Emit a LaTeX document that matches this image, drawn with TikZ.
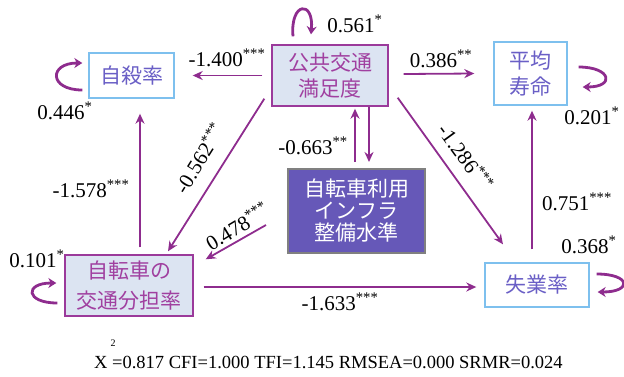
\documentclass[tikz,border=0pt]{standalone}
\usepackage{fontspec}
\setmainfont{Liberation Serif}
\newfontfamily\cjk{Noto Sans CJK JP}
\usetikzlibrary{arrows.meta}

\definecolor{pathpurple}{HTML}{8E2C8E}
\definecolor{boxpurple}{HTML}{9B3A9B}
\definecolor{textpurple}{HTML}{A040A0}
\definecolor{boxfill}{HTML}{DCE4F2}
\definecolor{skyline}{HTML}{7EC0EE}
\definecolor{slatetext}{HTML}{6A5FC6}
\definecolor{infrafill}{HTML}{6658B8}

\newcommand{\stars}[1]{\textsuperscript{#1}}

\begin{document}
\begin{tikzpicture}[x=1pt, y=-1pt,
    outcome/.style={draw=skyline, line width=1.4pt, fill=white, text=slatetext, align=center, inner sep=0pt, font=\cjk\fontsize{21}{26}\selectfont},
    latent/.style={draw=boxpurple, line width=1.4pt, fill=boxfill, text=textpurple, align=center, inner sep=0pt, font=\cjk\fontsize{21}{26}\selectfont},
    infrabox/.style={draw=gray, line width=2pt, fill=infrafill, text=white, align=center, inner sep=0pt, font=\cjk\fontsize{21}{22}\selectfont},
    effect/.style={pathpurple, line width=1.8pt, -{Stealth[length=10pt, width=9pt]}},
    resid/.style={pathpurple, line width=2.8pt, -{Stealth[length=8pt, width=10pt]}},
    coef/.style={inner sep=0pt, font=\fontsize{21}{21}\selectfont}]

    \useasboundingbox (0,0) rectangle (624,376);

    % boxes
    \node[outcome, minimum width=85pt, minimum height=45pt] (suicide) at (131.5,75.5) {自殺率};
    \node[latent, minimum width=116pt, minimum height=61pt] (transit) at (330,75.5) {公共交通\\満足度};
    \node[outcome, minimum width=73pt, minimum height=63pt] (life) at (530.5,73.5) {平均\\寿命};
    \node[infrabox, minimum width=137pt, minimum height=84pt] (infra) at (356.5,211) {自転車利用\\インフラ\\整備水準};
    \node[latent, minimum width=128pt, minimum height=61pt, font=\cjk\fontsize{21}{30}\selectfont] (share) at (129,285.5) {自転車の\\交通分担率};
    \node[outcome, minimum width=104pt, minimum height=44pt] (unemp) at (537,285) {失業率};

    % paths
    \draw[effect] ([xshift=-9pt]transit.west) -- ([xshift=18pt]suicide.east);
    \draw[effect] ([xshift=15pt,yshift=1.5pt]transit.east) -- ([xshift=-19pt]life.west);
    \draw[effect] ([xshift=-1.5pt,yshift=6pt]infra.north) -- ([xshift=25pt,yshift=-2pt]transit.south);
    \draw[effect] ([xshift=39pt]transit.south) -- ([xshift=12.5pt,yshift=6pt]infra.north);
    \draw[effect] ([xshift=-7pt,yshift=8pt]transit.south west) -- ([xshift=39pt,yshift=3pt]share.north);
    \draw[effect] ([xshift=-21pt,yshift=-14pt]infra.west) -- ([xshift=12pt,yshift=-5pt]share.north east);
    \draw[effect] ([xshift=11pt,yshift=7pt]share.north) -- ([xshift=8.5pt,yshift=-15pt]suicide.south);
    \draw[effect] ([xshift=10pt,yshift=-1.5pt]share.east) -- ([xshift=-8pt,yshift=-2pt]unemp.west);
    \draw[effect] ([xshift=9pt,yshift=9pt]transit.south east) -- ([xshift=-34pt,yshift=18pt]unemp.north);
    \draw[effect] ([xshift=-5pt,yshift=13pt]unemp.north) -- ([xshift=1.5pt,yshift=-5pt]life.south);

    % residual loops
    \draw[resid] ([xshift=-37pt,yshift=8pt]transit.north) to[out=95, in=85, looseness=4.9] ([xshift=-19pt,yshift=10pt]transit.north);
    \draw[resid] ([xshift=-6pt,yshift=-14.5pt]suicide.west) to[out=180, in=180, looseness=3.2] ([xshift=-6pt,yshift=12.5pt]suicide.west);
    \draw[resid] ([xshift=11pt,yshift=6.5pt]life.east) to[out=0, in=0, looseness=4.1] ([xshift=15pt,yshift=-13.5pt]life.east);
    \draw[resid] ([xshift=-7pt,yshift=-17.5pt]share.west) to[out=180, in=180, looseness=4.1] ([xshift=-8pt,yshift=2.5pt]share.west);
    \draw[resid] ([xshift=7pt,yshift=11pt]unemp.east) to[out=0, in=0, looseness=4.9] ([xshift=8pt,yshift=-7pt]unemp.east);

    % coefficients
    \node[coef] (b1) at (227,58) {-1.400\stars{***}};
    \node[coef] (b2) at (441,59) {0.386\stars{**}};
    \node[coef] (b3) at (313,146) {-0.663\stars{**}};
    \node[coef, rotate=58] (b4) at (199,158) {-0.562\stars{***}};
    \node[coef, rotate=31] (b5) at (237,226) {0.478\stars{***}};
    \node[coef] (b6) at (91,189) {-1.578\stars{***}};
    \node[coef] (b7) at (340,302) {-1.633\stars{***}};
    \node[coef, rotate=-54] (b8) at (466,157) {-1.286\stars{***}};
    \node[coef] (b9) at (577,202) {0.751\stars{***}};

    % residual variances
    \node[coef] (r1) at (355,24) {0.561\stars{*}};
    \node[coef] (r2) at (65,111) {0.446\stars{*}};
    \node[coef] (r3) at (592,116) {0.201\stars{*}};
    \node[coef] (r4) at (37,259) {0.101\stars{*}};
    \node[coef] (r5) at (589,245) {0.368\stars{*}};

    % fit indices
    \node[inner sep=0pt, anchor=base west, font=\fontsize{18.5}{18.5}\selectfont] (fit) at (94,368) {X =0.817 CFI=1.000 TFI=1.145 RMSEA=0.000 SRMR=0.024};
    \node[inner sep=0pt, font=\fontsize{10}{10}\selectfont] (chi) at (113,343) {2};

\end{tikzpicture}
\end{document}
